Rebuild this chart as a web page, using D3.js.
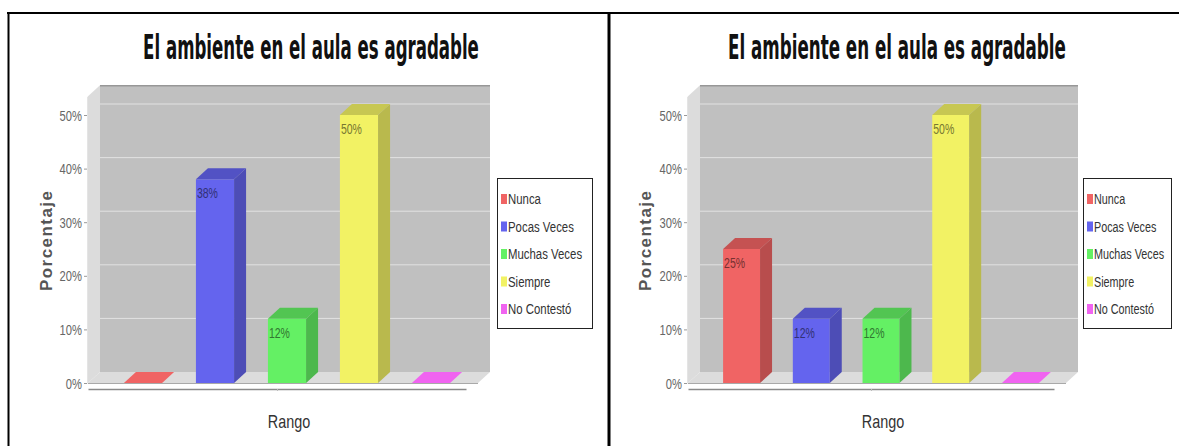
<!DOCTYPE html>
<html>
<head>
<meta charset="utf-8">
<script src="https://cdn.jsdelivr.net/npm/d3@7"></script>
<style>
  html, body { margin: 0; padding: 0; background: #fff; }
  svg { display: block; }
</style>
</head>
<body>
<svg id="chart" width="1179" height="446"></svg>
<script>
// Categories (series) shown in each 3D bar chart
const categories = ["Nunca", "Pocas Veces", "Muchas Veces", "Siempre", "No Contestó"];
// Percentages for each panel
const valuesLeft = [0, 38, 12, 50, 0];
const valuesRight = [25, 12, 12, 50, 0];
// Range axis ticks
const yTicks = [0, 10, 20, 30, 40, 50];
const yTickLabels = ["0%", "10%", "20%", "30%", "40%", "50%"];
const titleText = "El ambiente en el aula es agradable";
const yAxisTitle = "Porcentaje";
const xAxisTitle = "Rango";
const seriesColors = ["#f06464", "#6464ee", "#64f064", "#f2f264", "#f064f0"];

const svg = d3.select("#chart");
const FONT = "'Liberation Sans', Arial, sans-serif";

// Panel frame lines
svg.append("path")
  .attr("d", "M7,13H1179M8.5,12V446")
  .attr("fill", "none").attr("stroke", "#000").attr("stroke-width", 2);
svg.append("line")
  .attr("x1", 609).attr("x2", 609).attr("y1", 12).attr("y2", 446)
  .attr("stroke", "#000").attr("stroke-width", 3);

// 3D depth offsets
const DX = 12, DY = 11;
const Y_BASE = 383;       // front edge of the floor
const PX_PER_UNIT = 5.36; // pixels per percent
const Y_MAX = 53.5;

// horizontally condensed text helper
function sText(parent, x, y, str, o) {
  return parent.append("text")
    .attr("transform", `translate(${x},${y}) scale(${o.sx || 1},1)`)
    .attr("text-anchor", o.anchor || "start")
    .attr("font-family", o.family || FONT)
    .attr("font-size", o.size)
    .attr("font-weight", o.weight || "normal")
    .attr("fill", o.fill || "#333")
    .text(str);
}

// text squeezed horizontally to a given width, centred on cx
function fitText(parent, cx, y, str, width, o) {
  const t = parent.append("text")
    .attr("text-anchor", "middle")
    .attr("font-family", o.family || FONT)
    .attr("font-size", o.size)
    .attr("font-weight", o.weight || "normal")
    .attr("fill", o.fill || "#111")
    .text(str);
  const natural = t.node().getComputedTextLength();
  t.attr("transform", `translate(${cx},${y}) scale(${width / natural},1)`);
  return t;
}

function poly(parent, pts, fill) {
  return parent.append("polygon")
    .attr("points", pts.map(p => p.join(",")).join(" "))
    .attr("fill", fill);
}

function drawPanel(cfg) {
  const g = svg.append("g");
  const y = d3.scaleLinear().domain([0, Y_MAX]).range([Y_BASE, Y_BASE - Y_MAX * PX_PER_UNIT]);
  const x = d3.scaleBand().domain(categories)
    .range([cfg.axisX + 10, cfg.floorRight - 2])
    .paddingInner(0.47).paddingOuter(0.36);
  const yTop = y(Y_MAX);
  const L = cfg.axisX, R = cfg.floorRight;

  // Title
  fitText(g, cfg.titleCx, 59, titleText, cfg.titleW,
    { family: "'DejaVu Sans', sans-serif", weight: "bold", size: 33, fill: "#111" });

  // Back wall
  g.append("rect")
    .attr("x", L + DX).attr("y", yTop - DY)
    .attr("width", R - L).attr("height", (Y_BASE - DY) - (yTop - DY))
    .attr("fill", "#c0c0c0");
  g.append("line")
    .attr("x1", L + DX).attr("x2", R + DX)
    .attr("y1", yTop - DY + 0.5).attr("y2", yTop - DY + 0.5)
    .attr("stroke", "#979797").attr("stroke-width", 1.5);
  // Left wall
  poly(g, [[L, Y_BASE], [L, yTop], [L + DX, yTop - DY], [L + DX, Y_BASE - DY]], "#dcdcdc");
  // Floor
  poly(g, [[L, Y_BASE], [R, Y_BASE], [R + DX, Y_BASE - DY], [L + DX, Y_BASE - DY]], "#dcdcdc");

  // Gridlines on the back wall
  g.selectAll("line.grid").data(yTicks.filter(v => v > 0)).enter()
    .append("line").attr("class", "grid")
    .attr("x1", L + DX).attr("x2", R + DX)
    .attr("y1", v => y(v) - DY).attr("y2", v => y(v) - DY)
    .attr("stroke", "#e2e2e2").attr("stroke-width", 1);

  // Range axis
  const yAxis = d3.axisLeft(y).tickValues(yTicks)
    .tickFormat((d, i) => yTickLabels[i]).tickSize(3).tickSizeOuter(0);
  const ya = g.append("g").attr("transform", `translate(${L - 1},0)`).call(yAxis);
  ya.select(".domain").attr("stroke", "#e4e4e4");
  ya.selectAll(".tick line").attr("stroke", "#999");
  ya.selectAll(".tick text")
    .attr("x", null).attr("dy", "0.36em")
    .attr("transform", "translate(-5,0) scale(0.8,1)")
    .attr("font-family", FONT).attr("font-size", 14).attr("fill", "#666");

  // Axis title (rotated)
  g.append("text")
    .attr("transform", `translate(${cfg.yLabelX},${cfg.yLabelCy}) rotate(-90)`)
    .attr("text-anchor", "middle")
    .attr("font-family", FONT).attr("font-weight", "bold").attr("font-size", 17)
    .attr("textLength", 100).attr("lengthAdjust", "spacing")
    .attr("fill", "#555")
    .text(yAxisTitle);

  // Category axis
  const xc = d3.scalePoint().domain([""]).range([L, R - DX]).padding(0.5);
  const xa = g.append("g").attr("transform", `translate(0,${Y_BASE + 6})`)
    .call(d3.axisBottom(xc).tickSize(2).tickSizeOuter(0));
  xa.select(".domain").attr("stroke", "#8a8a8a").attr("stroke-width", 1.5);
  xa.selectAll(".tick line").attr("stroke", "#bbb");
  g.append("line")
    .attr("x1", L).attr("x2", R).attr("y1", Y_BASE + 0.5).attr("y2", Y_BASE + 0.5)
    .attr("stroke", "#a9a9a9");
  sText(g, (L + R - DX) / 2 + 12, 428, xAxisTitle, { sx: 0.8, anchor: "middle", size: 18, fill: "#333" });

  // Bars
  cfg.values.forEach((v, i) => {
    const c = d3.color(seriesColors[i]);
    const xb = x(categories[i]), w = x.bandwidth();
    const yt = y(v);
    if (v <= 0) {
      poly(g, [[xb, Y_BASE], [xb + w, Y_BASE], [xb + w + DX, Y_BASE - DY], [xb + DX, Y_BASE - DY]], c.formatHex());
      return;
    }
    g.append("rect").attr("x", xb).attr("y", yt).attr("width", w).attr("height", Y_BASE - yt)
      .attr("fill", c.formatHex());
    poly(g, [[xb + w, yt], [xb + w + DX, yt - DY], [xb + w + DX, Y_BASE - DY], [xb + w, Y_BASE]],
      c.darker(0.75).formatHex());
    poly(g, [[xb, yt], [xb + DX, yt - DY], [xb + w + DX, yt - DY], [xb + w, yt]],
      c.darker(0.55).formatHex());
    sText(g, xb + 1, yt + 19, `${v}%`, { sx: 0.75, size: 14, fill: c.darker(2).formatHex() });
  });

  // Legend
  const lg = g.append("g").attr("transform", `translate(${cfg.legendX},178)`);
  lg.append("rect").attr("x", 0.5).attr("y", 0.5).attr("width", cfg.legendW).attr("height", 150)
    .attr("fill", "#fff").attr("stroke", "#222").attr("stroke-width", 1);
  categories.forEach((name, i) => {
    const cy = 21 + i * 27.5;
    lg.append("rect").attr("x", 4).attr("y", cy - 5).attr("width", 6).attr("height", 10)
      .attr("fill", seriesColors[i]);
    sText(lg, 11, cy + 5, name, { sx: cfg.legendSx, size: 15, fill: "#333" });
  });
}

drawPanel({ values: valuesLeft, axisX: 88, floorRight: 478, titleCx: 311, titleW: 336,
  legendX: 497, legendW: 95, legendSx: 0.76, yLabelX: 52, yLabelCy: 241 });
drawPanel({ values: valuesRight, axisX: 688, floorRight: 1066, titleCx: 897, titleW: 338,
  legendX: 1083, legendW: 88, legendSx: 0.72, yLabelX: 651, yLabelCy: 241 });
</script>
</body>
</html>
